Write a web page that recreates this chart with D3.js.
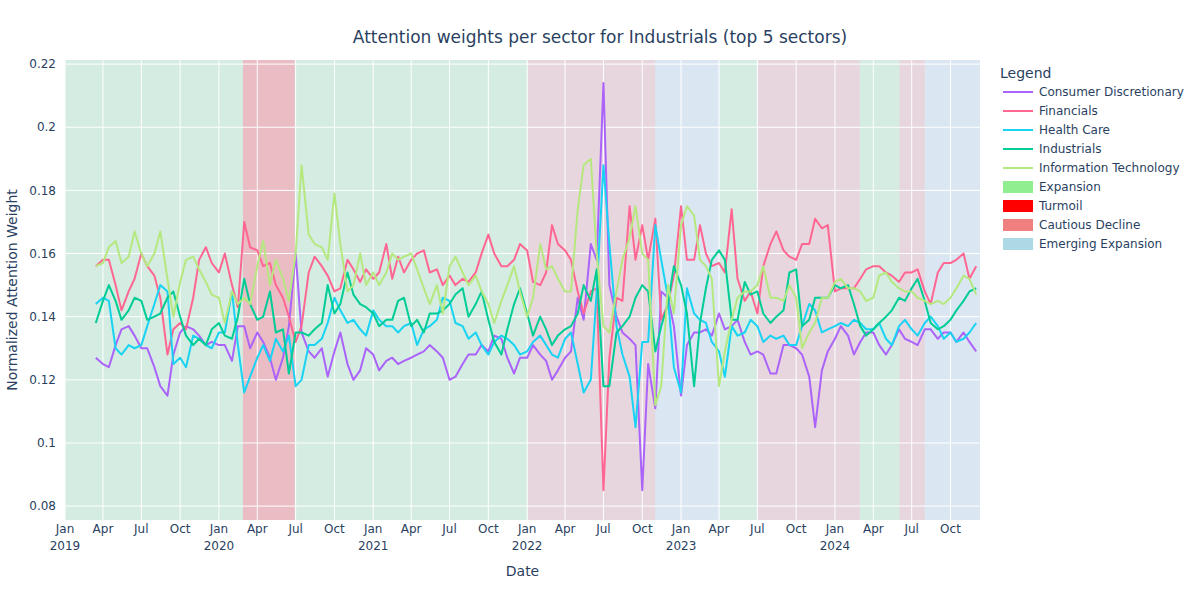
<!DOCTYPE html>
<html lang="en">

<head>
    <meta charset="UTF-8">
    <title>Attention weights per sector</title>
    <script src="https://d3js.org/d3.v7.min.js"></script>
    <style>
        body { margin: 0; background: #fff; }
        text { font-family: "DejaVu Sans", verdana, arial, sans-serif; fill: #2a3f5f; }
    </style>
</head>

<body>
    <svg width="1200" height="600"></svg>

    <script>
        // sectors shown in the legend, with their plotly colours
        const sectors = ["Consumer Discretionary", "Financials", "Health Care", "Industrials", "Information Technology"];
        const sectorColors = ["#AB63FA", "#FF6692", "#19D3F3", "#00CC96", "#B6E880"];

        // readings taken on the 1st and 15th of each month, 2019-03-15 .. 2024-12-01
        const consumerDisc = [
            .127, .125, .124, .131, .136, .137, .134, .130, .130, .124, .118, .115, .128, .135, .137, .136, .134, .131, .132,
            .131, .131, .126, .137, .137, .130, .135, .132, .127, .120, .127, .137, .160, .135, .129, .127, .130, .121, .129, .135, .125, .120, .123, .130,
            .128, .123, .126, .127, .125, .126, .127, .128, .129, .131, .129, .127, .120, .121, .125, .128, .128, .131, .129, .134, .133, .127, .122, .127,
            .127, .131, .128, .126, .120, .123, .127, .129, .146, .139, .163, .158, .214, .150, .140, .135, .133, .131, .085, .125, .111, .148, .146, .137,
            .115, .131, .135, .135, .136, .134, .141, .136, .137, .139, .132, .128, .129, .128, .122, .122, .131, .131, .130, .128, .121, .105, .123, .129,
            .133, .137, .134, .128, .132, .135, .135, .131, .128, .131, .136, .133, .132, .131, .136, .136, .133, .135, .135, .132, .135, .132, .129
        ];
        const financials = [
            .156, .158, .158, .150, .142, .148, .152, .160, .156, .153, .146, .128, .136, .138, .136, .146, .158, .162, .157,
            .154, .160, .150, .143, .170, .162, .161, .156, .157, .150, .146, .140, .132, .137, .154, .159, .156, .153, .148, .149, .158, .155, .151, .155,
            .152, .154, .163, .152, .159, .154, .158, .160, .161, .154, .155, .150, .153, .150, .152, .151, .154, .160, .166, .160, .156, .156, .158, .163,
            .161, .151, .150, .154, .169, .163, .161, .158, .148, .141, .148, .149, .085, .127, .146, .145, .175, .158, .169, .158, .171, .139, .144, .153,
            .175, .158, .158, .169, .160, .156, .157, .154, .174, .152, .145, .148, .141, .156, .163, .167, .161, .159, .158, .163, .163, .171, .168, .169,
            .148, .149, .149, .149, .152, .155, .156, .156, .154, .153, .151, .154, .154, .155, .148, .144, .154, .157, .157, .158, .160, .152, .156
        ];
        const healthCare = [
            .144, .146, .145, .130, .128, .131, .130, .131, .137, .144, .150, .148, .125, .127, .124, .134, .133, .131, .130,
            .135, .135, .148, .131, .116, .121, .127, .131, .126, .133, .129, .134, .118, .120, .131, .131, .133, .138, .146, .142, .138, .139, .136, .134,
            .142, .139, .137, .137, .135, .137, .138, .131, .136, .137, .139, .146, .145, .138, .137, .133, .135, .131, .128, .132, .134, .133, .131, .128,
            .129, .132, .134, .131, .128, .127, .133, .135, .125, .116, .120, .148, .188, .163, .137, .128, .121, .105, .132, .132, .169, .158, .146, .124,
            .116, .149, .141, .139, .138, .132, .129, .121, .137, .134, .135, .139, .137, .132, .134, .133, .134, .131, .131, .137, .144, .142, .135, .136,
            .137, .138, .137, .139, .138, .136, .136, .138, .133, .131, .137, .139, .136, .134, .138, .140, .137, .133, .135, .132, .133, .135, .138
        ];
        const industrials = [
            .138, .145, .150, .145, .139, .142, .146, .145, .139, .140, .141, .146, .148, .140, .134, .131, .133, .131, .136,
            .138, .134, .133, .140, .152, .144, .139, .140, .148, .135, .136, .122, .135, .135, .134, .136, .138, .150, .141, .144, .154, .147, .144, .143,
            .141, .137, .139, .139, .145, .146, .137, .139, .135, .141, .141, .142, .144, .147, .149, .140, .144, .148, .139, .132, .128, .136, .144, .149,
            .141, .134, .140, .136, .131, .134, .136, .137, .141, .150, .145, .155, .118, .118, .135, .137, .140, .146, .150, .148, .129, .137, .144, .156,
            .150, .141, .118, .138, .149, .158, .161, .158, .139, .139, .151, .147, .148, .141, .138, .140, .142, .154, .155, .137, .139, .146, .146, .146,
            .150, .149, .150, .144, .137, .134, .136, .138, .140, .142, .146, .145, .149, .152, .145, .138, .136, .137, .139, .142, .145, .148, .149
        ];
        const infoTech = [
            .156, .157, .162, .164, .157, .159, .167, .160, .156, .160, .167, .152, .140, .151, .158, .159, .155, .151, .147,
            .146, .138, .148, .144, .146, .144, .156, .164, .150, .158, .152, .145, .160, .188, .166, .163, .162, .158, .179, .163, .148, .150, .160, .150,
            .154, .150, .154, .160, .158, .159, .160, .155, .149, .144, .150, .141, .156, .159, .154, .150, .153, .148, .144, .138, .145, .150, .156, .148,
            .140, .146, .163, .155, .156, .152, .148, .148, .174, .188, .190, .160, .137, .135, .148, .158, .165, .175, .160, .158, .112, .118, .150, .141,
            .169, .175, .172, .158, .156, .152, .118, .129, .139, .146, .148, .148, .150, .156, .146, .146, .145, .150, .146, .130, .135, .138, .146, .146,
            .151, .152, .149, .149, .148, .145, .146, .153, .154, .151, .149, .148, .148, .146, .145, .144, .145, .144, .146, .149, .153, .152, .147
        ];
        const seriesValues = [consumerDisc, financials, healthCare, industrials, infoTech];

        // market regimes shaded behind the lines
        const regimeNames = ["Expansion", "Turmoil", "Expansion", "Cautious Decline", "Emerging Expansion",
            "Expansion", "Cautious Decline", "Expansion", "Cautious Decline", "Emerging Expansion"];
        const regimeStarts = ["2019-01-01", "2020-02-27", "2020-06-29", "2022-01-03", "2022-11-01",
            "2023-04-03", "2023-07-01", "2024-02-29", "2024-06-02", "2024-08-01"];
        const regimeEnds = ["2020-02-27", "2020-06-29", "2022-01-03", "2022-11-01", "2023-04-03",
            "2023-07-01", "2024-02-29", "2024-06-02", "2024-08-01", "2024-12-10"];
        const regimeLegend = ["Expansion", "Turmoil", "Cautious Decline", "Emerging Expansion"];
        const regimeColors = ["lightgreen", "red", "lightcoral", "lightblue"];

        const yTicks = [0.08, 0.1, 0.12, 0.14, 0.16, 0.18, 0.2, 0.22];

        const parse = d3.timeParse("%Y-%m-%d");

        // the 1st and 15th of every month in the range
        let dates = [];
        d3.timeMonth.range(new Date(2019, 2, 1), new Date(2025, 0, 1)).forEach(m => {
            dates.push(new Date(m.getFullYear(), m.getMonth(), 1));
            dates.push(new Date(m.getFullYear(), m.getMonth(), 15));
        });
        dates = dates.filter(d => d >= new Date(2019, 2, 15) && d <= new Date(2024, 11, 1));

        const W = 1200, H = 600;
        const margin = { left: 65, top: 60, right: 220, bottom: 80 };
        const pw = W - margin.left - margin.right,
            ph = H - margin.top - margin.bottom;

        let svg = d3.select("svg");

        let x = d3.scaleTime()
            .domain([parse("2019-01-01"), parse("2024-12-10")])
            .range([margin.left, margin.left + pw]);
        let y = d3.scaleLinear()
            .domain([0.0756, 0.2213])
            .range([margin.top + ph, margin.top]);

        svg.append("defs").append("clipPath").attr("id", "plotclip")
            .append("rect")
            .attr("x", margin.left).attr("y", margin.top)
            .attr("width", pw).attr("height", ph);

        // plot background
        svg.append("rect")
            .attr("x", margin.left).attr("y", margin.top)
            .attr("width", pw).attr("height", ph)
            .attr("fill", "#E5ECF6");

        // regime shading
        const colorOf = d3.scaleOrdinal().domain(regimeLegend).range(regimeColors);
        svg.append("g").attr("clip-path", "url(#plotclip)")
            .selectAll("rect")
            .data(regimeNames)
            .enter()
            .append("rect")
            .attr("x", (d, i) => x(parse(regimeStarts[i])))
            .attr("width", (d, i) => x(parse(regimeEnds[i])) - x(parse(regimeStarts[i])))
            .attr("y", margin.top)
            .attr("height", ph)
            .attr("fill", d => colorOf(d))
            .attr("opacity", 0.2);

        // grid
        const xTicks = d3.timeMonth.every(3).range(parse("2019-01-01"), parse("2024-12-10"));
        let grid = svg.append("g");
        grid.selectAll("line.gx")
            .data(xTicks)
            .enter()
            .append("line")
            .attr("x1", d => x(d)).attr("x2", d => x(d))
            .attr("y1", margin.top).attr("y2", margin.top + ph)
            .attr("stroke", "#fff").attr("stroke-width", 1);
        grid.selectAll("line.gy")
            .data(yTicks)
            .enter()
            .append("line")
            .attr("x1", margin.left).attr("x2", margin.left + pw)
            .attr("y1", d => y(d)).attr("y2", d => y(d))
            .attr("stroke", "#fff").attr("stroke-width", 1);

        // series lines
        const line = d3.line()
            .x((d, i) => x(dates[i]))
            .y(d => y(d));
        svg.append("g").attr("clip-path", "url(#plotclip)")
            .selectAll("path")
            .data(seriesValues)
            .enter()
            .append("path")
            .attr("d", line)
            .attr("fill", "none")
            .attr("stroke", (d, i) => sectorColors[i])
            .attr("stroke-width", 2)
            .attr("stroke-linejoin", "round");

        // y tick labels
        svg.append("g").selectAll("text")
            .data(yTicks)
            .enter()
            .append("text")
            .attr("x", margin.left - 9)
            .attr("y", d => y(d))
            .attr("dy", "0.35em")
            .attr("text-anchor", "end")
            .style("font-size", "12px")
            .text(d => String(+d.toFixed(2)));

        // x tick labels (month, with year under January)
        const fmtMonth = d3.timeFormat("%b");
        let xl = svg.append("g").selectAll("text")
            .data(xTicks)
            .enter()
            .append("text")
            .attr("x", d => x(d))
            .attr("y", margin.top + ph + 13)
            .attr("text-anchor", "middle")
            .style("font-size", "12px");
        xl.append("tspan").attr("x", d => x(d)).text(d => fmtMonth(d));
        xl.filter(d => d.getMonth() === 0)
            .append("tspan").attr("x", d => x(d)).attr("dy", 17)
            .text(d => d.getFullYear());

        // titles
        svg.append("text")
            .attr("x", 600).attr("y", 43)
            .attr("text-anchor", "middle")
            .style("font-size", "17px")
            .text("Attention weights per sector for Industrials (top 5 sectors)");
        svg.append("text")
            .attr("x", margin.left + pw / 2).attr("y", 576)
            .attr("text-anchor", "middle")
            .style("font-size", "14px")
            .text("Date");
        svg.append("text")
            .attr("transform", "translate(12," + (margin.top + ph / 2) + ") rotate(-90)")
            .attr("text-anchor", "middle")
            .attr("dy", "0.35em")
            .style("font-size", "14px")
            .text("Normalized Attention Weight");

        // legend
        let legend = svg.append("g");
        legend.append("text")
            .attr("x", 1000).attr("y", 78)
            .style("font-size", "14px")
            .text("Legend");
        const legendRows = sectors.concat(regimeLegend);
        let rows = legend.selectAll("g.row")
            .data(legendRows)
            .enter()
            .append("g")
            .attr("transform", (d, i) => "translate(0," + (92 + i * 19) + ")");
        rows.filter((d, i) => i < sectors.length)
            .append("line")
            .attr("x1", 1003).attr("x2", 1033)
            .attr("stroke", (d, i) => sectorColors[i])
            .attr("stroke-width", 2);
        rows.filter((d, i) => i >= sectors.length)
            .append("rect")
            .attr("x", 1003).attr("y", -6)
            .attr("width", 30).attr("height", 12)
            .attr("fill", d => colorOf(d));
        rows.append("text")
            .attr("x", 1039)
            .attr("dy", "0.35em")
            .style("font-size", "12px")
            .text(d => d);
    </script>
</body>

</html>
